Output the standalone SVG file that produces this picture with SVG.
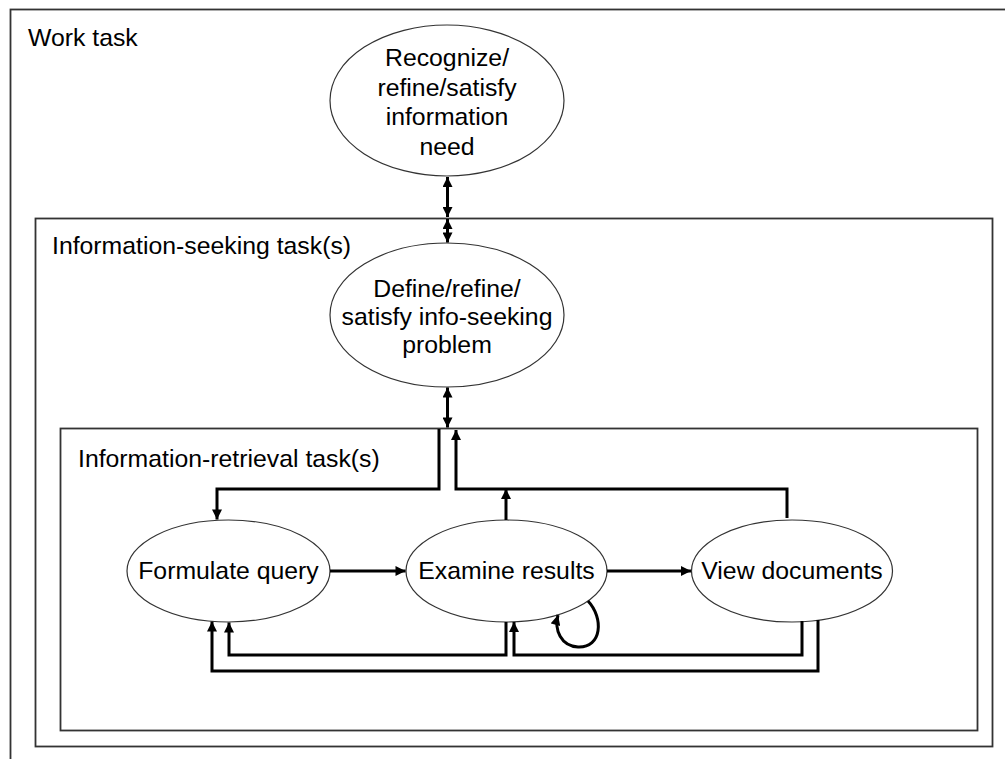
<svg xmlns="http://www.w3.org/2000/svg" width="1005" height="759" viewBox="0 0 1005 759">
<style>
.box{fill:none;stroke:#333;stroke-width:1.8}
.ell{fill:#fff;stroke:#333;stroke-width:1.2}
.t{font-family:"Liberation Sans",Arial,sans-serif;font-size:24.8px;fill:#000}
.c{text-anchor:middle}
.con{fill:none;stroke:#000;stroke-width:3}
</style>
<defs>
<marker id="ah" viewBox="0 0 10 10" refX="10" refY="5" markerWidth="11" markerHeight="10" markerUnits="userSpaceOnUse" orient="auto-start-reverse">
<path d="M0,0 L10,5 L0,10 z" fill="#000"/>
</marker>
</defs>
<rect width="1005" height="759" fill="#fff"/>
<g id="work-task">
<rect class="box" x="10.5" y="9.5" width="1010" height="770"/>
<text class="t" x="28" y="46">Work task</text>
</g>
<g id="info-seeking">
<rect class="box" x="35.5" y="218.5" width="957" height="528"/>
<text class="t" x="52" y="254">Information-seeking task(s)</text>
</g>
<g id="info-retrieval">
<rect class="box" x="60.5" y="428.5" width="917" height="302"/>
<text class="t" x="78" y="467">Information-retrieval task(s)</text>
</g>
<g id="recognize">
<ellipse class="ell" cx="447" cy="100.5" rx="117" ry="75.5"/>
<text class="t c" x="447" y="66">Recognize/</text>
<text class="t c" x="447" y="95.5">refine/satisfy</text>
<text class="t c" x="447" y="125">information</text>
<text class="t c" x="447" y="154.5">need</text>
</g>
<g id="define">
<ellipse class="ell" cx="447" cy="315" rx="117" ry="72"/>
<text class="t c" x="447" y="297">Define/refine/</text>
<text class="t c" x="447" y="325">satisfy info-seeking</text>
<text class="t c" x="447" y="353">problem</text>
</g>
<g id="formulate">
<ellipse class="ell" cx="228.5" cy="571" rx="101.5" ry="51"/>
<text class="t c" x="228.5" y="579">Formulate query</text>
</g>
<g id="examine">
<ellipse class="ell" cx="506.5" cy="571" rx="100.5" ry="51"/>
<text class="t c" x="506.5" y="579">Examine results</text>
</g>
<g id="view">
<ellipse class="ell" cx="792" cy="571" rx="100.5" ry="51"/>
<text class="t c" x="792" y="579">View documents</text>
</g>
<g id="connectors">
<path class="con" d="M447.5,177 V217" marker-start="url(#ah)" marker-end="url(#ah)"/>
<path class="con" d="M447.5,219 V242.5" marker-start="url(#ah)" marker-end="url(#ah)"/>
<path class="con" d="M447.5,387.5 V427.5" marker-start="url(#ah)" marker-end="url(#ah)"/>
<path class="con" d="M439,429 V489 H217 V519.5" marker-end="url(#ah)"/>
<path class="con" d="M787,518 V489 H456 V430" marker-end="url(#ah)"/>
<path class="con" d="M506,520 V489" marker-end="url(#ah)"/>
<path class="con" d="M330,571 H405.5" marker-end="url(#ah)"/>
<path class="con" d="M607,571 H691" marker-end="url(#ah)"/>
<path class="con" d="M506,622 V655 H229 V622.5" marker-end="url(#ah)"/>
<path class="con" d="M802,621 V655 H514 V622" marker-end="url(#ah)"/>
<path class="con" d="M818,620 V671 H212 V621.5" marker-end="url(#ah)"/>
<path class="con" d="M588,601 C604,618 602,648 578,647 C561,646 554,630 558,615" marker-end="url(#ah)"/>
</g>
</svg>
